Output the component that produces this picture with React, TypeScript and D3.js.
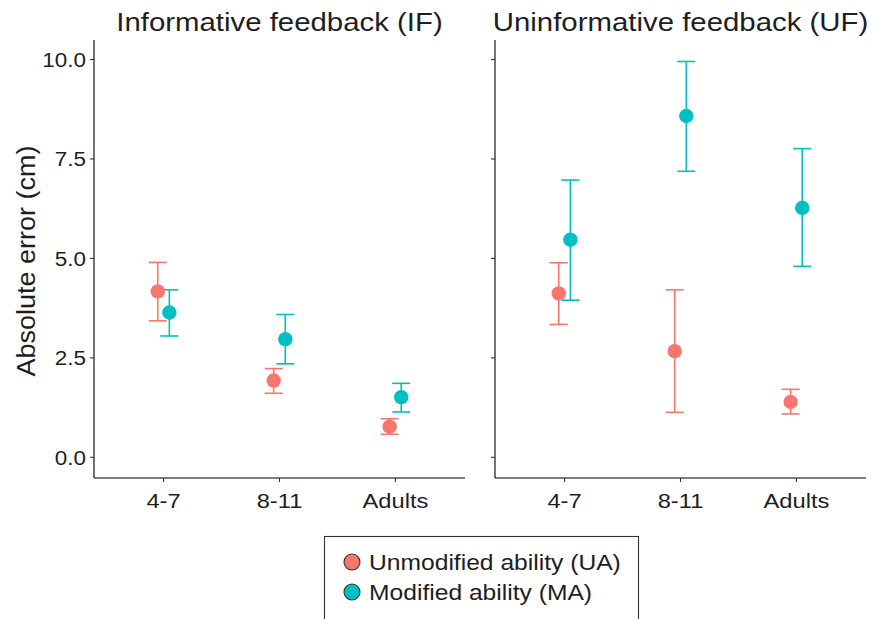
import React from "react";
import * as d3 from "d3";

const ageGroups = ["4-7", "8-11", "Adults"];
const panels = ["Informative feedback (IF)", "Uninformative feedback (UF)"];
const seriesNames = ["Unmodified ability (UA)", "Modified ability (MA)"];
const seriesColors = ["#F8766D", "#00BFC4"];
const yTicks = [0, 2.5, 5, 7.5, 10];

const IF_UA_mean = [4.17, 1.93, 0.77];
const IF_UA_lo = [3.43, 1.61, 0.58];
const IF_UA_hi = [4.90, 2.23, 0.97];
const IF_MA_mean = [3.64, 2.97, 1.51];
const IF_MA_lo = [3.05, 2.35, 1.14];
const IF_MA_hi = [4.21, 3.59, 1.86];
const UF_UA_mean = [4.12, 2.67, 1.39];
const UF_UA_lo = [3.34, 1.13, 1.09];
const UF_UA_hi = [4.89, 4.21, 1.71];
const UF_MA_mean = [5.47, 8.58, 6.27];
const UF_MA_lo = [3.95, 7.19, 4.80];
const UF_MA_hi = [6.97, 9.95, 7.76];

const data = [
  [
    { mean: IF_UA_mean, lo: IF_UA_lo, hi: IF_UA_hi },
    { mean: IF_MA_mean, lo: IF_MA_lo, hi: IF_MA_hi },
  ],
  [
    { mean: UF_UA_mean, lo: UF_UA_lo, hi: UF_UA_hi },
    { mean: UF_MA_mean, lo: UF_MA_lo, hi: UF_MA_hi },
  ],
];

const W = 872;
const H = 619;
const FONT = "'Liberation Sans', Arial, Helvetica, sans-serif";
const TEXT = "#1e1e1e";
const SX = 1.12;

const Txt = ({ x, y, anchor = "start", size, sx = SX, rotate = 0, children }: any) => (
  <g transform={`translate(${x},${y}) rotate(${rotate}) scale(${sx},1)`}>
    <text x={0} y={0} textAnchor={anchor} fontSize={size} fontFamily={FONT} fill={TEXT}>
      {children}
    </text>
  </g>
);

export default function App() {
  const top = 40;
  const bottom = 478;
  const panelX = [
    [94, 465],
    [495, 866],
  ];
  const y = d3.scaleLinear().domain([-0.52, 10.49]).range([bottom, top]);

  return (
    <svg
      width={W}
      height={H}
      style={{ position: "absolute", left: 0, top: 0, background: "#fff" }}
    >
      <rect x={0} y={0} width={W} height={H} fill="#fff" />
      <Txt x={35} y={(top + bottom) / 2 + 2} anchor="middle" size={25} rotate={-90} sx={1.08}>
        Absolute error (cm)
      </Txt>
      {panels.map((title, pi) => {
        const [x0, x1] = panelX[pi];
        const x = d3.scalePoint<string>().domain(ageGroups).range([x0, x1]).padding(0.6);
        const step = x.step();
        const dodge = step * 0.05;
        const cap = step * 0.078;
        return (
          <g key={pi}>
            <Txt x={(x0 + x1) / 2} y={31} anchor="middle" size={26} sx={1.13}>
              {title}
            </Txt>
            <line x1={x0} x2={x0} y1={top} y2={bottom} stroke="#000" strokeWidth={1.1} />
            <line x1={x0} x2={x1} y1={bottom} y2={bottom} stroke="#000" strokeWidth={1.1} />
            {yTicks.map((t) => (
              <g key={t}>
                <line x1={x0 - 4} x2={x0} y1={y(t)} y2={y(t)} stroke="#333" strokeWidth={1.1} />
                {pi === 0 && (
                  <Txt x={x0 - 8} y={y(t) + 7.5} anchor="end" size={21} sx={1.07}>
                    {t.toFixed(1)}
                  </Txt>
                )}
              </g>
            ))}
            {ageGroups.map((a) => (
              <g key={a}>
                <line x1={x(a)!} x2={x(a)!} y1={bottom} y2={bottom + 4} stroke="#333" strokeWidth={1.1} />
                <Txt x={x(a)!} y={508} anchor="middle" size={21} sx={1.13}>
                  {a}
                </Txt>
              </g>
            ))}
            {data[pi].map((s, si) =>
              ageGroups.map((a, ai) => {
                const cx = x(a)! + (si === 0 ? -dodge : dodge);
                return (
                  <g key={`e${si}-${a}`} stroke={seriesColors[si]} strokeWidth={1.6}>
                    <line x1={cx} x2={cx} y1={y(s.lo[ai])} y2={y(s.hi[ai])} />
                    <line x1={cx - cap} x2={cx + cap} y1={y(s.lo[ai])} y2={y(s.lo[ai])} />
                    <line x1={cx - cap} x2={cx + cap} y1={y(s.hi[ai])} y2={y(s.hi[ai])} />
                  </g>
                );
              })
            )}
            {data[pi].map((s, si) =>
              ageGroups.map((a, ai) => {
                const cx = x(a)! + (si === 0 ? -dodge : dodge);
                return (
                  <circle key={`p${si}-${a}`} cx={cx} cy={y(s.mean[ai])} r={7.2} fill={seriesColors[si]} />
                );
              })
            )}
          </g>
        );
      })}
      <rect x={324.5} y={536.5} width={314} height={100} fill="#fff" stroke="#333" strokeWidth={1.1} />
      {seriesNames.map((n, i) => (
        <g key={n}>
          <circle cx={352} cy={562 + i * 30} r={8} fill={seriesColors[i]} stroke="#333" strokeWidth={1.1} />
          <Txt x={369} y={569.5 + i * 30} size={22} sx={1.12}>
            {n}
          </Txt>
        </g>
      ))}
    </svg>
  );
}
